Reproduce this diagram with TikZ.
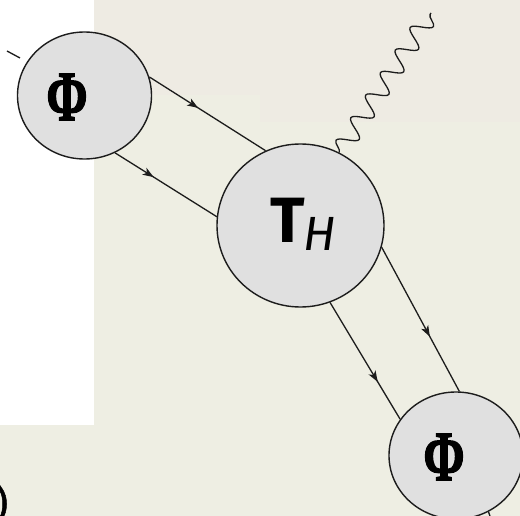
\documentclass[tikz,border=0pt]{standalone}
\usepackage[no-math]{fontspec}
\usetikzlibrary{shapes.geometric,decorations.markings,decorations.pathmorphing,arrows.meta}
\newfontfamily\labelfont{Fira Sans}
\newfontfamily\heavylabelfont[FakeBold=1.2]{Fira Sans}
\newfontfamily\phifont[FakeBold=2]{Liberation Serif}
\definecolor{paper}{HTML}{EEEEE3}
\definecolor{papertop}{HTML}{EEEBE3}
\definecolor{blobfill}{HTML}{E0E0E0}
\definecolor{ink}{HTML}{1C1C1C}
\newcommand{\phisym}{\scalebox{0.7}[1]{\phifont\bfseries\fontsize{71}{71}\selectfont Φ}}
\begin{document}
\begin{tikzpicture}[x=1pt,y=-1pt,
  blob/.style={ellipse, draw=ink, line width=1.4pt, fill=blobfill, inner sep=0pt},
  smallblob/.style={blob, minimum width=134pt, minimum height=127pt},
  bigblob/.style={blob, minimum width=167pt, minimum height=163pt},
  prop/.style={draw=ink, line width=1.3pt},
  flow/.style={prop, postaction={decorate}, decoration={markings,
      mark=at position #1 with {\arrow{Stealth[length=11pt,width=8pt,inset=3pt]}}}},
  wave/.style={draw=ink, line width=1.3pt, decorate,
      decoration={snake, segment length=27pt, amplitude=9.5pt}},
  txt/.style={inner sep=0pt, text=black}
]
\useasboundingbox (0,0) rectangle (520,516);
% paper background
\fill[paper] (0,0) rectangle (520,516);
\fill[papertop] (94,0) -- (520,0) -- (520,122) -- (260,122) -- (260,95) -- (94,95) -- cycle;
\fill[white] (0,0) rectangle (94,425);

% blobs
\node[smallblob] (phiA) at (84.5,95.5) {};
\node[bigblob] (th) at (300.5,225.5) {};
\node[smallblob] (phiB) at (456,455.5) {};

% labels
\node[txt] (phiAlabel) at (67,97) {\phisym};
\node[txt] (phiBlabel) at (444,457) {\phisym};
\node[txt, anchor=base west] (thlabel) at (270,243)
  {\labelfont\fontsize{64}{64}\selectfont\bfseries T\kern-1pt\raisebox{-8pt}{\fontsize{48}{48}\selectfont\mdseries\itshape H}};

% propagators
\draw[flow=0.42] (phiA.16.2) -- (th.115.8);
\draw[flow=0.38] (phiA.-62.1) -- (th.174.9);
\draw[flow=0.62] (th.-15.4) -- (phiB.87.3);
\draw[flow=0.68] (th.-69.9) -- (phiB.147.2);

% emitted photon
\coordinate (waveend) at (431,13);
\draw[wave] (th.62.1) -- (waveend);

% loose line ends
\coordinate (tickA) at (7,51);
\coordinate (tickB) at (20,58);
\draw[prop] (tickA) -- (tickB);
\coordinate (brout) at (492,522);
\draw[prop] (phiB.-60) -- (brout);

% closing bracket
\node[txt, anchor=north west] (paren) at (-5,484) {\heavylabelfont\fontsize{40}{40}\selectfont )};
\end{tikzpicture}
\end{document}
